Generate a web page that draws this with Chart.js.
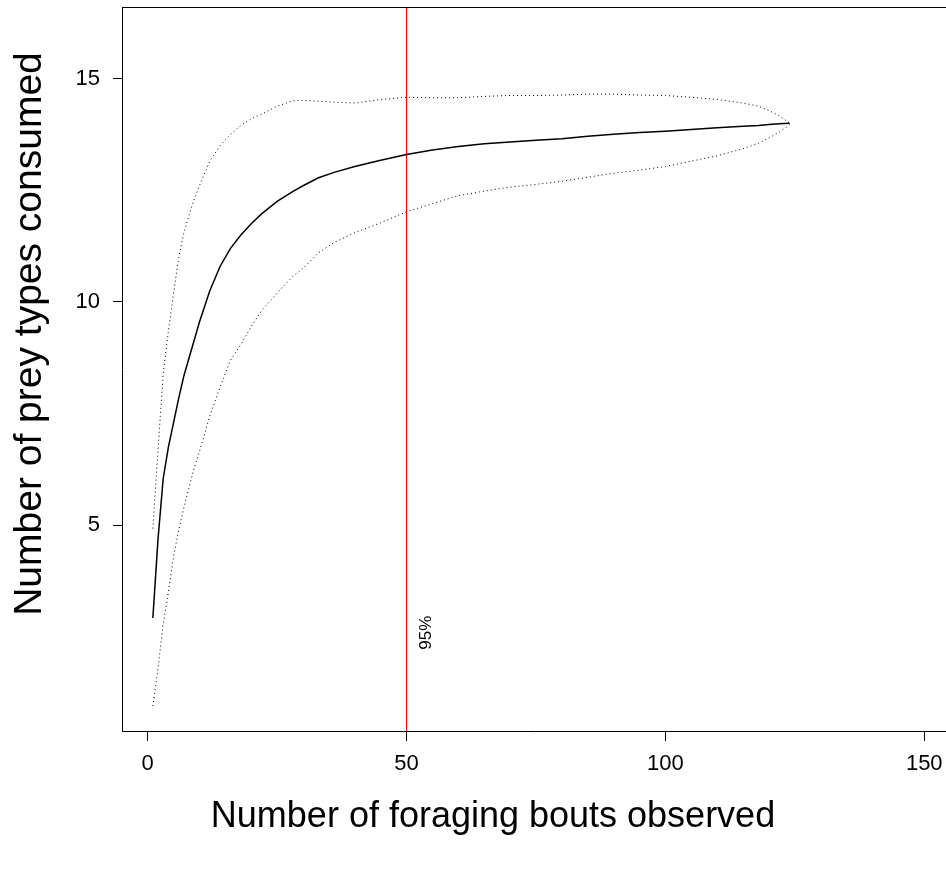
<!DOCTYPE html>
<html lang="en">
<head>
<meta charset="UTF-8">
<title>Prey types consumed vs foraging bouts</title>
<script src="https://cdn.jsdelivr.net/npm/chart.js"></script>
<style>
  html, body { margin: 0; padding: 0; background: #fff; overflow: hidden; }
  #wrap { width: 946px; height: 869px; }
</style>
</head>
<body>
<div id="wrap"><canvas id="myChart" width="946" height="869"></canvas></div>
<script>
// values
const bouts      = [1, 2, 3, 4, 5, 6, 7, 8, 9, 10, 12, 14, 16, 18, 20, 22, 25, 28, 30, 33, 36, 40, 45, 50, 55, 60, 65, 70, 75, 80, 85, 90, 95, 100, 105, 110, 115, 118, 120, 122, 124];
const meanTypes  = [2.93, 4.7, 6.05, 6.75, 7.3, 7.85, 8.35, 8.75, 9.15, 9.55, 10.25, 10.8, 11.2, 11.5, 11.75, 11.97, 12.25, 12.47, 12.6, 12.78, 12.9, 13.03, 13.17, 13.3, 13.4, 13.48, 13.54, 13.58, 13.62, 13.65, 13.71, 13.75, 13.79, 13.82, 13.86, 13.9, 13.93, 13.95, 13.97, 13.99, 14.0];
const upperTypes = [4.93, 6.7, 8.4, 9.35, 10.2, 11.0, 11.55, 11.95, 12.3, 12.6, 13.15, 13.5, 13.75, 13.95, 14.1, 14.2, 14.38, 14.5, 14.51, 14.49, 14.47, 14.45, 14.53, 14.58, 14.57, 14.57, 14.6, 14.62, 14.62, 14.63, 14.65, 14.65, 14.63, 14.62, 14.58, 14.53, 14.45, 14.38, 14.28, 14.17, 14.0];
const lowerTypes = [0.96, 1.8, 2.8, 3.5, 4.3, 4.9, 5.4, 5.85, 6.3, 6.65, 7.45, 8.1, 8.7, 9.05, 9.45, 9.8, 10.2, 10.57, 10.75, 11.1, 11.33, 11.55, 11.77, 12.02, 12.2, 12.38, 12.48, 12.57, 12.63, 12.7, 12.79, 12.88, 12.95, 13.03, 13.15, 13.27, 13.43, 13.55, 13.67, 13.8, 13.97];

const xTicks = [0, 50, 100, 150];
const yTicks = [5, 10, 15];
const cutoffBout = 50;
const cutoffLabel = '95%';
const xTitle = 'Number of foraging bouts observed';
const yTitle = 'Number of prey types consumed';

const xMin = -4.96, xMax = 154.2;
const yMin = 0.4, yMax = 16.6;
const FONT = '"Liberation Sans", Arial, Helvetica, sans-serif';

const toPoints = ys => bouts.map((b, i) => ({ x: b, y: ys[i] }));

const extras = {
  id: 'extras',
  afterDraw(chart) {
    const { ctx, chartArea: a, scales } = chart;
    ctx.save();
    // top edge of the box
    ctx.strokeStyle = '#000';
    ctx.lineWidth = 1;
    ctx.beginPath();
    ctx.moveTo(a.left, a.top + 0.5);
    ctx.lineTo(a.right, a.top + 0.5);
    ctx.stroke();

    ctx.fillStyle = '#000';
    // label beside the cut-off line
    ctx.save();
    ctx.translate(scales.x.getPixelForValue(cutoffBout + 3.8), scales.y.getPixelForValue(2.6));
    ctx.rotate(-Math.PI / 2);
    ctx.font = '17px ' + FONT;
    ctx.textAlign = 'center';
    ctx.textBaseline = 'middle';
    ctx.fillText(cutoffLabel, 0, 0);
    ctx.restore();

    // axis titles
    ctx.textAlign = 'center';
    ctx.textBaseline = 'middle';
    ctx.font = '36px ' + FONT;
    ctx.fillText(xTitle, 493, 817);
    ctx.save();
    ctx.translate(30, 334);
    ctx.rotate(-Math.PI / 2);
    ctx.font = '39px ' + FONT;
    ctx.fillText(yTitle, 0, 0);
    ctx.restore();
    ctx.restore();
  }
};

new Chart(document.getElementById('myChart'), {
  type: 'line',
  data: {
    datasets: [
      { data: toPoints(upperTypes), borderColor: '#000', borderWidth: 1, borderDash: [1, 3] },
      { data: toPoints(lowerTypes), borderColor: '#000', borderWidth: 1, borderDash: [1, 3] },
      { data: toPoints(meanTypes), borderColor: '#000', borderWidth: 1.5 },
      { data: [{ x: cutoffBout, y: yMin }, { x: cutoffBout, y: yMax }], borderColor: '#ff0000', borderWidth: 1.2 }
    ]
  },
  options: {
    responsive: false,
    animation: false,
    devicePixelRatio: 1,
    layout: { padding: { top: 7, right: 0, bottom: 0, left: 0 } },
    elements: { point: { radius: 0 }, line: { tension: 0, fill: false } },
    plugins: { legend: { display: false }, tooltip: { enabled: false }, title: { display: false } },
    scales: {
      x: {
        type: 'linear', min: xMin, max: xMax,
        afterBuildTicks: s => { s.ticks = xTicks.map(v => ({ value: v })); },
        afterFit: s => { s.height = 138; s.paddingLeft = 0; s.paddingRight = 0; },
        grid: { drawOnChartArea: false, drawTicks: true, tickLength: 10, color: '#000' },
        border: { display: true, color: '#000', width: 1 },
        ticks: { color: '#000', font: { family: FONT, size: 22 }, padding: 10, maxRotation: 0, autoSkip: false }
      },
      y: {
        type: 'linear', min: yMin, max: yMax,
        afterBuildTicks: s => { s.ticks = yTicks.map(v => ({ value: v })); },
        afterFit: s => { s.width = 122; s.paddingTop = 0; s.paddingBottom = 0; },
        grid: { drawOnChartArea: false, drawTicks: true, tickLength: 9, color: '#000' },
        border: { display: true, color: '#000', width: 1 },
        ticks: { color: '#000', font: { family: FONT, size: 22 }, padding: 13, autoSkip: false }
      }
    }
  },
  plugins: [extras]
});
</script>
</body>
</html>
